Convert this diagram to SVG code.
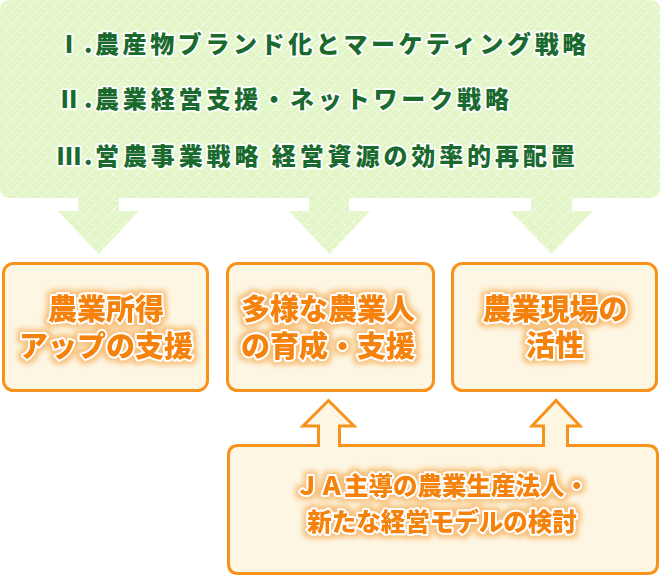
<svg xmlns="http://www.w3.org/2000/svg" width="660" height="576" viewBox="0 0 660 576">
<defs>
<pattern id="tex" width="12" height="12" patternUnits="userSpaceOnUse">
<rect width="12" height="12" fill="#e3f6c8"/>
<path d="M0 12 L12 0 M-3 3 L3 -3 M9 15 L15 9" stroke="#f1fbe3" stroke-width="1.2"/>
<rect x="2" y="2" width="2" height="1" fill="#f6fdec"/>
<rect x="7" y="8" width="3" height="1" fill="#f6fdec"/>
<rect x="9" y="3" width="1" height="2" fill="#d9f0bb"/>
<rect x="3" y="9" width="1" height="1" fill="#d9f0bb"/>
<rect x="5" y="5" width="1" height="1" fill="#f8fef0"/>
</pattern>
<filter id="glow" x="-10%" y="-30%" width="120%" height="160%">
<feMorphology in="SourceAlpha" operator="dilate" radius="2.5" result="d"/>
<feGaussianBlur in="d" stdDeviation="2.5" result="b"/>
<feFlood flood-color="#f8c27e"/>
<feComposite in2="b" operator="in" result="h"/>
<feMerge><feMergeNode in="h"/><feMergeNode in="SourceGraphic"/></feMerge>
</filter>
</defs>
<style>
.g{font-family:"Noto Sans CJK JP","Noto Sans CJK SC",sans-serif;font-weight:900;font-size:24px;fill:#1a6a2e;stroke:#ffffff;stroke-width:3.5;stroke-linejoin:round;paint-order:stroke}
.ob{fill:#fdf6e3;stroke:#f7921c;stroke-width:3}
.o{font-family:"Noto Sans CJK JP","Noto Sans CJK SC",sans-serif;font-weight:900;fill:#f5820a;stroke:#ffffff;stroke-width:4;stroke-linejoin:round;paint-order:stroke;text-anchor:middle;filter:url(#glow)}
.big{font-size:29px}
.mid{font-size:24.5px}
</style>
<g id="strategies">
<path d="M10 0 H650 Q660 0 660 10 V188 Q660 198 650 198 H572 V211 H593 L551.5 254 L510 211 H531 V198 H349 V211 H370 L329.5 254 L289 211 H309 V198 H119 V211 H139 L98.5 254 L58 211 H78 V198 H10 Q0 198 0 188 V10 Q0 0 10 0 Z" fill="url(#tex)"/>
<text class="g" y="53"><tspan x="57">Ⅰ</tspan><tspan x="84">.</tspan><tspan x="95" letter-spacing="3.6">農産物ブランド化とマーケティング戦略</tspan></text>
<text class="g" y="108"><tspan x="57">Ⅱ</tspan><tspan x="84">.</tspan><tspan x="95" letter-spacing="3.85">農業経営支援・ネットワーク戦略</tspan></text>
<text class="g" y="165"><tspan x="57">Ⅲ</tspan><tspan x="84">.</tspan><tspan x="95" letter-spacing="3.9">営農事業戦略 経営資源の効率的再配置</tspan></text>
</g>
<g id="goal1">
<rect class="ob" x="3.5" y="263.5" width="204" height="127" rx="10"/>
<text class="o big"><tspan x="106" y="320">農業所得</tspan><tspan x="106" y="357">アップの支援</tspan></text>
</g>
<g id="goal2">
<rect class="ob" x="227.5" y="263.5" width="206" height="127" rx="10"/>
<text class="o big"><tspan x="328" y="320">多様な農業人</tspan><tspan x="328" y="357">の育成・支援</tspan></text>
</g>
<g id="goal3">
<rect class="ob" x="452.5" y="263.5" width="204" height="127" rx="10"/>
<text class="o big"><tspan x="555" y="320">農業現場の</tspan><tspan x="555" y="356">活性</tspan></text>
</g>
<g id="connectors">
<path class="ob" d="M238.5 445.5 H318.5 V426 H303 L328.5 400.5 L354 426 H339.5 V445.5 H543.5 V426 H532 L556 400.5 L580 426 H567.5 V445.5 H647.5 Q657.5 445.5 657.5 455.5 V563.5 Q657.5 573.5 647.5 573.5 H238.5 Q228.5 573.5 228.5 563.5 V455.5 Q228.5 445.5 238.5 445.5 Z"/>
</g>
<g id="ja-model">
<text class="o mid"><tspan x="442" y="495">ＪＡ主導の農業生産法人・</tspan><tspan x="442" y="531">新たな経営モデルの検討</tspan></text>
</g>
</svg>
